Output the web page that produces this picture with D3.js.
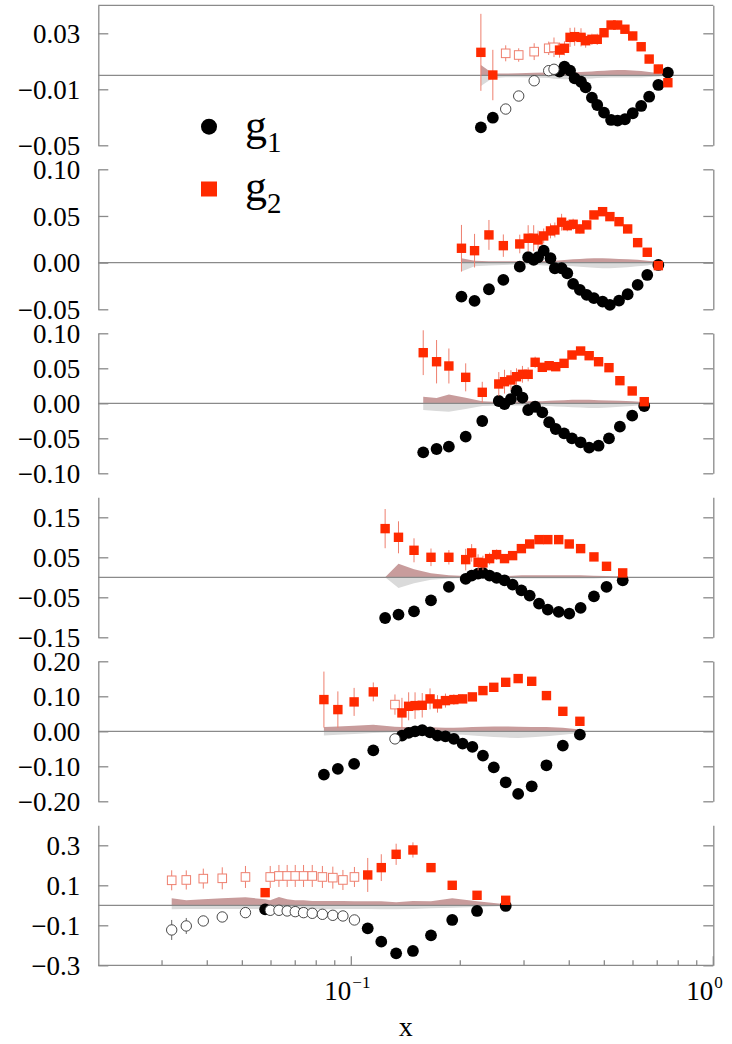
<!DOCTYPE html>
<html>
<head>
<meta charset="utf-8">
<script src="https://cdn.jsdelivr.net/npm/d3@7"></script>
<style>
  html, body { margin: 0; padding: 0; background: #fff; }
  svg { display: block; }
</style>
</head>
<body>
<svg id="chart" width="732" height="1044"></svg>
<script>
// ---- x axis (log) ----
const xDomain = [0.02, 1];
const xMinorTicks = [0.03, 0.04, 0.05, 0.06, 0.07, 0.08, 0.09, 0.2, 0.3, 0.4, 0.5, 0.6, 0.7, 0.8, 0.9];
const xMajorTicks = [0.1, 1];
const xMajorExponents = ["\u22121", "0"];

// ---- panel 1 ----
const p1X = [0.228, 0.246, 0.267, 0.290, 0.320, 0.351, 0.363, 0.376, 0.388, 0.402, 0.414, 0.431, 0.444, 0.462, 0.478, 0.499, 0.522, 0.544, 0.570, 0.599, 0.632, 0.665, 0.705, 0.749];
const p1G1 = [-0.0372, -0.0303, -0.0241, -0.0148, -0.0039, 0.0033, 0.0043, 0.0026, 0.0062, 0.0033, -0.0021, -0.0046, -0.0086, -0.0160, -0.0212, -0.0267, -0.0319, -0.0324, -0.0314, -0.0271, -0.0219, -0.0153, -0.0069, 0.0019];
const p1G1Err = [0.0034, 0.0026, 0.0030, 0.0018, 0.0012, 0.0010, 0.0010, 0.0010, 0.0010, 0.0010, 0.0010, 0.0010, 0.0010, 0.0010, 0.0010, 0.0010, 0.0010, 0.0010, 0.0010, 0.0010, 0.0010, 0.0010, 0.0010, 0.0010];
const p1G2 = [0.0164, 0.0002, 0.0157, 0.0145, 0.0169, 0.0193, 0.0200, 0.0180, 0.0193, 0.0271, 0.0276, 0.0271, 0.0247, 0.0257, 0.0257, 0.0304, 0.0359, 0.0359, 0.0329, 0.0281, 0.0204, 0.0116, 0.0045, -0.0053];
const p1G2Err = [0.0275, 0.0180, 0.0057, 0.0048, 0.0060, 0.0048, 0.0070, 0.0054, 0.0050, 0.0068, 0.0065, 0.0065, 0.0050, 0.0040, 0.0040, 0.0030, 0.0030, 0.0030, 0.0030, 0.0030, 0.0030, 0.0030, 0.0030, 0.0030];
const p1Open = [2, 3, 4, 5, 6];
const p1SysHi = [0.0073, 0.0012, 0.0012, 0.0015, 0.0018, 0.0020, 0.0020, 0.0020, 0.0020, 0.0020, 0.0022, 0.0024, 0.0026, 0.0028, 0.0030, 0.0033, 0.0036, 0.0038, 0.0037, 0.0034, 0.0030, 0.0024, 0.0016, 0.0010];
const p1SysLo = [-0.0077, -0.0020, -0.0014, -0.0014, -0.0016, -0.0020, -0.0024, -0.0026, -0.0028, -0.0028, -0.0028, -0.0026, -0.0024, -0.0022, -0.0020, -0.0018, -0.0016, -0.0016, -0.0016, -0.0016, -0.0015, -0.0012, -0.0008, -0.0004];
const p1YDomain = [-0.05, 0.05];
const p1YTicks = [-0.05, -0.01, 0.03];
const p1YLabels = ["\u22120.05", "\u22120.01", "0.03"];

// ---- panel 2 ----
const p2X = [0.2015, 0.219, 0.240, 0.263, 0.292, 0.308, 0.319, 0.328, 0.340, 0.355, 0.365, 0.381, 0.395, 0.410, 0.428, 0.447, 0.468, 0.4945, 0.518, 0.549, 0.580, 0.618, 0.657, 0.705];
const p2G1 = [-0.0364, -0.0410, -0.0285, -0.0185, -0.0043, 0.0058, 0.0029, 0.0058, 0.0128, 0.0047, -0.0060, -0.0060, -0.0114, -0.0228, -0.0292, -0.0346, -0.0381, -0.0418, -0.0453, -0.0407, -0.0339, -0.0239, -0.0132, -0.0025];
const p2G1Err = [0.0030, 0.0025, 0.0020, 0.0015, 0.0012, 0.0012, 0.0012, 0.0012, 0.0012, 0.0012, 0.0012, 0.0012, 0.0012, 0.0012, 0.0012, 0.0012, 0.0012, 0.0012, 0.0012, 0.0012, 0.0012, 0.0012, 0.0012, 0.0012];
const p2G2 = [0.0154, 0.0128, 0.0297, 0.0182, 0.0200, 0.0261, 0.0261, 0.0243, 0.0286, 0.0340, 0.0350, 0.0433, 0.0396, 0.0411, 0.0361, 0.0404, 0.0511, 0.0546, 0.0493, 0.0439, 0.0361, 0.0214, 0.0111, -0.0032];
const p2G2Err = [0.0250, 0.0180, 0.0160, 0.0120, 0.0100, 0.0140, 0.0140, 0.0100, 0.0080, 0.0080, 0.0080, 0.0090, 0.0060, 0.0060, 0.0050, 0.0040, 0.0040, 0.0040, 0.0040, 0.0040, 0.0030, 0.0030, 0.0030, 0.0030];
const p2Open = [];
const p2SysHi = [0.0047, 0.0020, 0.0015, 0.0015, 0.0015, 0.0015, 0.0015, 0.0015, 0.0018, 0.0020, 0.0020, 0.0025, 0.0030, 0.0035, 0.0040, 0.0045, 0.0047, 0.0047, 0.0045, 0.0040, 0.0035, 0.0030, 0.0020, 0.0010];
const p2SysLo = [-0.0096, -0.0040, -0.0030, -0.0025, -0.0020, -0.0020, -0.0020, -0.0025, -0.0030, -0.0030, -0.0030, -0.0030, -0.0035, -0.0040, -0.0045, -0.0050, -0.0055, -0.0060, -0.0060, -0.0055, -0.0050, -0.0040, -0.0030, -0.0010];
const p2YDomain = [-0.05, 0.10];
const p2YTicks = [-0.05, 0.0, 0.05, 0.10];
const p2YLabels = ["\u22120.05", "0.00", "0.05", "0.10"];

// ---- panel 3 ----
const p3X = [0.158, 0.172, 0.186, 0.207, 0.230, 0.2555, 0.265, 0.276, 0.286, 0.297, 0.308, 0.322, 0.337, 0.352, 0.367, 0.387, 0.407, 0.430, 0.454, 0.482, 0.515, 0.552, 0.597, 0.6445];
const p3G1 = [-0.0700, -0.0653, -0.0620, -0.0477, -0.0253, 0.0033, -0.0010, 0.0061, 0.0180, 0.0080, -0.0096, -0.0049, -0.0129, -0.0271, -0.0367, -0.0429, -0.0500, -0.0557, -0.0634, -0.0606, -0.0500, -0.0334, -0.0177, -0.0039];
const p3G1Err = [0.0030, 0.0030, 0.0025, 0.0020, 0.0020, 0.0020, 0.0020, 0.0020, 0.0020, 0.0020, 0.0020, 0.0020, 0.0020, 0.0020, 0.0020, 0.0020, 0.0020, 0.0020, 0.0020, 0.0020, 0.0020, 0.0020, 0.0020, 0.0020];
const p3G2 = [0.0723, 0.0594, 0.0533, 0.0371, 0.0157, 0.0276, 0.0309, 0.0333, 0.0380, 0.0414, 0.0414, 0.0586, 0.0514, 0.0537, 0.0523, 0.0571, 0.0690, 0.0747, 0.0680, 0.0594, 0.0509, 0.0323, 0.0176, 0.0023];
const p3G2Err = [0.0320, 0.0310, 0.0250, 0.0200, 0.0150, 0.0170, 0.0170, 0.0140, 0.0120, 0.0120, 0.0100, 0.0080, 0.0060, 0.0050, 0.0050, 0.0040, 0.0040, 0.0040, 0.0040, 0.0040, 0.0040, 0.0040, 0.0040, 0.0040];
const p3Open = [];
const p3SysHi = [0.0094, 0.0075, 0.0125, 0.0080, 0.0030, 0.0020, 0.0020, 0.0020, 0.0025, 0.0030, 0.0030, 0.0030, 0.0030, 0.0035, 0.0040, 0.0045, 0.0050, 0.0050, 0.0050, 0.0045, 0.0040, 0.0035, 0.0030, 0.0020];
const p3SysLo = [-0.0096, -0.0110, -0.0120, -0.0080, -0.0040, -0.0030, -0.0030, -0.0030, -0.0030, -0.0030, -0.0030, -0.0030, -0.0035, -0.0040, -0.0045, -0.0050, -0.0055, -0.0060, -0.0067, -0.0067, -0.0060, -0.0050, -0.0040, -0.0020];
const p3YDomain = [-0.10, 0.10];
const p3YTicks = [-0.10, -0.05, 0.0, 0.05, 0.10];
const p3YLabels = ["\u22120.10", "\u22120.05", "0.00", "0.05", "0.10"];

// ---- panel 4 ----
const p4X = [0.124, 0.135, 0.149, 0.166, 0.186, 0.207, 0.215, 0.224, 0.231, 0.241, 0.252, 0.265, 0.279, 0.295, 0.311, 0.330, 0.349, 0.374, 0.400, 0.430, 0.468, 0.507, 0.562];
const p4G1 = [-0.1017, -0.0933, -0.0850, -0.0575, -0.0240, -0.0040, 0.0043, 0.0093, 0.0110, 0.0043, -0.0015, -0.0075, -0.0183, -0.0325, -0.0458, -0.0658, -0.0808, -0.0865, -0.0908, -0.0765, -0.0475, -0.0240, -0.0075];
const p4G1Err = [0.0060, 0.0050, 0.0040, 0.0040, 0.0030, 0.0030, 0.0030, 0.0030, 0.0030, 0.0030, 0.0030, 0.0030, 0.0030, 0.0030, 0.0030, 0.0030, 0.0030, 0.0030, 0.0030, 0.0030, 0.0030, 0.0030, 0.0030];
const p4G2 = [0.1217, 0.1000, 0.0675, 0.0500, 0.0500, 0.0442, 0.0610, 0.0375, 0.0360, 0.0467, 0.0567, 0.0467, 0.0542, 0.0717, 0.0833, 0.0942, 0.0942, 0.0942, 0.0833, 0.0717, 0.0510, 0.0275, 0.0110];
const p4G2Err = [0.0490, 0.0400, 0.0300, 0.0220, 0.0180, 0.0270, 0.0220, 0.0200, 0.0180, 0.0150, 0.0130, 0.0100, 0.0080, 0.0060, 0.0050, 0.0050, 0.0050, 0.0050, 0.0050, 0.0050, 0.0050, 0.0050, 0.0050];
const p4Open = [];
const p4SysHi = [0.0000, 0.0340, 0.0200, 0.0100, 0.0050, 0.0030, 0.0030, 0.0030, 0.0030, 0.0030, 0.0030, 0.0030, 0.0040, 0.0050, 0.0050, 0.0050, 0.0050, 0.0050, 0.0050, 0.0050, 0.0040, 0.0030, 0.0020];
const p4SysLo = [0.0000, -0.0267, -0.0150, -0.0060, -0.0030, -0.0020, -0.0020, -0.0020, -0.0020, -0.0020, -0.0020, -0.0030, -0.0030, -0.0030, -0.0030, -0.0030, -0.0030, -0.0030, -0.0030, -0.0030, -0.0030, -0.0020, -0.0010];
const p4YDomain = [-0.15, 0.20];
const p4YTicks = [-0.15, -0.05, 0.05, 0.15];
const p4YLabels = ["\u22120.15", "\u22120.05", "0.05", "0.15"];

// ---- panel 5 ----
const p5X = [0.084, 0.0918, 0.1018, 0.115, 0.132, 0.138, 0.144, 0.150, 0.157, 0.165, 0.173, 0.182, 0.192, 0.203, 0.216, 0.231, 0.2475, 0.267, 0.289, 0.315, 0.346, 0.384, 0.428];
const p5G1 = [-0.1237, -0.1074, -0.0931, -0.0543, -0.0217, -0.0123, -0.0046, 0.0000, 0.0030, -0.0030, -0.0123, -0.0143, -0.0217, -0.0351, -0.0446, -0.0694, -0.1029, -0.1457, -0.1789, -0.1571, -0.0971, -0.0409, -0.0094];
const p5G1Err = [0.0080, 0.0070, 0.0060, 0.0050, 0.0050, 0.0050, 0.0050, 0.0050, 0.0050, 0.0050, 0.0050, 0.0050, 0.0050, 0.0050, 0.0050, 0.0050, 0.0050, 0.0050, 0.0050, 0.0050, 0.0050, 0.0050, 0.0050];
const p5G2 = [0.0906, 0.0620, 0.0840, 0.1126, 0.0763, 0.0526, 0.0714, 0.0734, 0.0743, 0.0926, 0.0783, 0.0877, 0.0906, 0.0926, 0.0983, 0.1163, 0.1257, 0.1400, 0.1506, 0.1429, 0.1020, 0.0571, 0.0286];
const p5G2Err = [0.0800, 0.0520, 0.0400, 0.0270, 0.0290, 0.0430, 0.0400, 0.0380, 0.0350, 0.0300, 0.0250, 0.0200, 0.0150, 0.0120, 0.0100, 0.0080, 0.0080, 0.0080, 0.0080, 0.0080, 0.0080, 0.0080, 0.0080];
const p5Open = [4];
const p5SysHi = [0.0126, 0.0140, 0.0160, 0.0190, 0.0130, 0.0120, 0.0120, 0.0130, 0.0130, 0.0120, 0.0110, 0.0100, 0.0100, 0.0110, 0.0120, 0.0130, 0.0140, 0.0140, 0.0130, 0.0120, 0.0120, 0.0100, 0.0050];
const p5SysLo = [-0.0123, -0.0100, -0.0080, -0.0050, -0.0030, -0.0040, -0.0050, -0.0060, -0.0070, -0.0080, -0.0080, -0.0080, -0.0090, -0.0100, -0.0120, -0.0140, -0.0160, -0.0180, -0.0190, -0.0170, -0.0140, -0.0100, -0.0050];
const p5YDomain = [-0.20, 0.20];
const p5YTicks = [-0.20, -0.10, 0.0, 0.10, 0.20];
const p5YLabels = ["\u22120.20", "\u22120.10", "0.00", "0.10", "0.20"];

// ---- panel 6 ----
const p6X = [0.0319, 0.035, 0.039, 0.044, 0.051, 0.0578, 0.0597, 0.0631, 0.0665, 0.070, 0.0738, 0.078, 0.0832, 0.0889, 0.0948, 0.102, 0.111, 0.121, 0.133, 0.148, 0.166, 0.190, 0.2225, 0.267];
const p6G1 = [-0.1233, -0.1033, -0.0783, -0.0583, -0.0367, -0.0200, -0.0250, -0.0250, -0.0283, -0.0317, -0.0367, -0.0400, -0.0450, -0.0500, -0.0533, -0.0733, -0.1150, -0.1817, -0.2400, -0.2283, -0.1500, -0.0733, -0.0283, -0.0033];
const p6G1Err = [0.0500, 0.0400, 0.0200, 0.0150, 0.0100, 0.0100, 0.0100, 0.0100, 0.0100, 0.0100, 0.0100, 0.0100, 0.0100, 0.0100, 0.0100, 0.0100, 0.0100, 0.0100, 0.0100, 0.0100, 0.0100, 0.0100, 0.0100, 0.0100];
const p6G2 = [0.1250, 0.1267, 0.1333, 0.1350, 0.1417, 0.0633, 0.1417, 0.1467, 0.1467, 0.1467, 0.1467, 0.1467, 0.1417, 0.1383, 0.1267, 0.1417, 0.1517, 0.1883, 0.2550, 0.2767, 0.1883, 0.1000, 0.0500, 0.0250];
const p6G2Err = [0.0500, 0.0480, 0.0500, 0.0550, 0.0550, 0.0200, 0.0550, 0.0550, 0.0550, 0.0550, 0.0550, 0.0550, 0.0550, 0.0550, 0.0500, 0.0500, 0.0850, 0.0670, 0.0530, 0.0380, 0.0200, 0.0150, 0.0100, 0.0100];
const p6Open = [0, 1, 2, 3, 4, 6, 7, 8, 9, 10, 11, 12, 13, 14, 15];
const p6SysHi = [0.0350, 0.0250, 0.0300, 0.0350, 0.0400, 0.0300, 0.0250, 0.0420, 0.0300, 0.0250, 0.0250, 0.0220, 0.0220, 0.0220, 0.0220, 0.0200, 0.0200, 0.0200, 0.0150, 0.0220, 0.0200, 0.0350, 0.0200, 0.0050];
const p6SysLo = [-0.0200, -0.0180, -0.0180, -0.0180, -0.0180, -0.0180, -0.0180, -0.0200, -0.0200, -0.0200, -0.0200, -0.0200, -0.0200, -0.0200, -0.0180, -0.0180, -0.0180, -0.0200, -0.0200, -0.0180, -0.0150, -0.0120, -0.0080, -0.0030];
const p6YDomain = [-0.30, 0.40];
const p6YTicks = [-0.3, -0.1, 0.1, 0.3];
const p6YLabels = ["\u22120.3", "\u22120.1", "0.1", "0.3"];

const panels = [
  { x: p1X, g1: p1G1, g1e: p1G1Err, g2: p1G2, g2e: p1G2Err, open: p1Open, hi: p1SysHi, lo: p1SysLo, dom: p1YDomain, ticks: p1YTicks, labels: p1YLabels },
  { x: p2X, g1: p2G1, g1e: p2G1Err, g2: p2G2, g2e: p2G2Err, open: p2Open, hi: p2SysHi, lo: p2SysLo, dom: p2YDomain, ticks: p2YTicks, labels: p2YLabels },
  { x: p3X, g1: p3G1, g1e: p3G1Err, g2: p3G2, g2e: p3G2Err, open: p3Open, hi: p3SysHi, lo: p3SysLo, dom: p3YDomain, ticks: p3YTicks, labels: p3YLabels },
  { x: p4X, g1: p4G1, g1e: p4G1Err, g2: p4G2, g2e: p4G2Err, open: p4Open, hi: p4SysHi, lo: p4SysLo, dom: p4YDomain, ticks: p4YTicks, labels: p4YLabels },
  { x: p5X, g1: p5G1, g1e: p5G1Err, g2: p5G2, g2e: p5G2Err, open: p5Open, hi: p5SysHi, lo: p5SysLo, dom: p5YDomain, ticks: p5YTicks, labels: p5YLabels },
  { x: p6X, g1: p6G1, g1e: p6G1Err, g2: p6G2, g2e: p6G2Err, open: p6Open, hi: p6SysHi, lo: p6SysLo, dom: p6YDomain, ticks: p6YTicks, labels: p6YLabels }
];

// ---- layout & style ----
const LEFT = 98.3, RIGHT = 713.3;
const TOP0 = 5.3, STEP = 164, PH = 140;
const AXIS = "#8a8a8a";
const FONT = "Liberation Serif";
const RED = "#ff2a00";
const RED_LIGHT = "#ee7f6e";
const ROSE = "#c89c9c";
const GREY_BAND = "#dadada";
const R_FILLED = 5.9, R_OPEN = 5.2, SQ_FILLED = 9.4, SQ_OPEN = 8.6;

const svg = d3.select("#chart");
const xs = d3.scaleLog().domain(xDomain).range([LEFT, RIGHT]);

panels.forEach((p, i) => {
  const top = TOP0 + STEP * i;
  const ys = d3.scaleLinear().domain(p.dom).range([top + PH, top]);
  const g = svg.append("g");
  const pts = p.x.map((x, k) => ({
    x, g1: p.g1[k], g1e: p.g1e[k], g2: p.g2[k], g2e: p.g2e[k],
    hi: p.hi[k], lo: p.lo[k], open: p.open.includes(k)
  }));

  // systematic bands
  g.append("path").datum(pts)
    .attr("fill", GREY_BAND)
    .attr("d", d3.area().x(d => xs(d.x)).y0(ys(0)).y1(d => ys(d.lo)));
  g.append("path").datum(pts)
    .attr("fill", ROSE)
    .attr("d", d3.area().x(d => xs(d.x)).y0(ys(0)).y1(d => ys(d.hi)));

  // zero line
  g.append("line")
    .attr("x1", LEFT).attr("x2", RIGHT)
    .attr("y1", ys(0)).attr("y2", ys(0))
    .attr("stroke", AXIS).attr("stroke-width", 1.2);

  // left / right axes with inward ticks
  const la = g.append("g").attr("transform", `translate(${LEFT},0)`)
    .call(d3.axisLeft(ys).tickValues(p.ticks).tickSize(-10).tickSizeOuter(0).tickPadding(18)
      .tickFormat((d, k) => p.labels[k]));
  const ra = g.append("g").attr("transform", `translate(${RIGHT},0)`)
    .call(d3.axisRight(ys).tickValues(p.ticks).tickSize(-10).tickSizeOuter(0).tickFormat(""));
  [la, ra].forEach(a => {
    a.attr("font-family", FONT);
    a.select(".domain").attr("stroke", AXIS).attr("stroke-width", 1.3);
    a.selectAll(".tick line").attr("stroke", AXIS).attr("stroke-width", 1.3);
  });
  la.selectAll(".tick text")
    .attr("font-family", FONT).attr("font-size", 27).attr("fill", "#000")
    .attr("dy", "0.34em");

  if (i === 0) {
    g.append("line").attr("x1", LEFT).attr("x2", RIGHT)
      .attr("y1", top).attr("y2", top)
      .attr("stroke", AXIS).attr("stroke-width", 1.3);
  }

  // g1 error bars and markers
  g.selectAll(".e1").data(pts).join("line")
    .attr("x1", d => xs(d.x)).attr("x2", d => xs(d.x))
    .attr("y1", d => ys(d.g1 - d.g1e)).attr("y2", d => ys(d.g1 + d.g1e))
    .attr("stroke", "#666").attr("stroke-width", 1);
  g.selectAll(".c1f").data(pts.filter(d => !d.open)).join("circle")
    .attr("cx", d => xs(d.x)).attr("cy", d => ys(d.g1)).attr("r", R_FILLED)
    .attr("fill", "#000");
  g.selectAll(".c1o").data(pts.filter(d => d.open)).join("circle")
    .attr("cx", d => xs(d.x)).attr("cy", d => ys(d.g1)).attr("r", R_OPEN)
    .attr("fill", "#fff").attr("stroke", "#333").attr("stroke-width", 0.9);

  // g2 error bars and markers
  g.selectAll(".e2").data(pts).join("line")
    .attr("x1", d => xs(d.x)).attr("x2", d => xs(d.x))
    .attr("y1", d => ys(d.g2 - d.g2e)).attr("y2", d => ys(d.g2 + d.g2e))
    .attr("stroke", RED_LIGHT).attr("stroke-width", 1);
  g.selectAll(".s2o").data(pts.filter(d => d.open)).join("rect")
    .attr("x", d => xs(d.x) - SQ_OPEN / 2).attr("y", d => ys(d.g2) - SQ_OPEN / 2)
    .attr("width", SQ_OPEN).attr("height", SQ_OPEN)
    .attr("fill", "#fff").attr("stroke", RED_LIGHT).attr("stroke-width", 1);
  g.selectAll(".s2f").data(pts.filter(d => !d.open)).join("rect")
    .attr("x", d => xs(d.x) - SQ_FILLED / 2).attr("y", d => ys(d.g2) - SQ_FILLED / 2)
    .attr("width", SQ_FILLED).attr("height", SQ_FILLED)
    .attr("fill", RED);

  // bottom axis on the last panel
  if (i === panels.length - 1) {
    const yb = top + PH;
    g.append("line").attr("x1", LEFT).attr("x2", RIGHT)
      .attr("y1", yb).attr("y2", yb)
      .attr("stroke", AXIS).attr("stroke-width", 1.3);
    g.selectAll(".xmin").data(xMinorTicks).join("line")
      .attr("x1", d => xs(d)).attr("x2", d => xs(d))
      .attr("y1", yb).attr("y2", yb - 5)
      .attr("stroke", AXIS).attr("stroke-width", 1.3);
    g.selectAll(".xmaj").data(xMajorTicks).join("line")
      .attr("x1", d => xs(d)).attr("x2", d => xs(d))
      .attr("y1", yb).attr("y2", yb - 9)
      .attr("stroke", AXIS).attr("stroke-width", 1.3);
    xMajorTicks.forEach((t, k) => {
      g.append("text").attr("x", xs(t)).attr("y", yb + 35)
        .attr("text-anchor", "end")
        .attr("font-family", FONT).attr("font-size", 27).text("10");
      g.append("text").attr("x", xs(t) + 1).attr("y", yb + 23)
        .attr("text-anchor", "start")
        .attr("font-family", FONT).attr("font-size", 17).text(xMajorExponents[k]);
    });
    g.append("text").attr("x", (LEFT + RIGHT) / 2).attr("y", 1036)
      .attr("text-anchor", "middle")
      .attr("font-family", FONT).attr("font-size", 28).text("x");
  }
});

// legend
const leg = svg.append("g");
leg.append("circle").attr("cx", 209).attr("cy", 126.7).attr("r", 8).attr("fill", "#000");
const t1 = leg.append("text").attr("x", 245).attr("y", 140)
  .attr("font-family", FONT).attr("font-size", 44);
t1.append("tspan").text("g");
t1.append("tspan").attr("font-size", 29).attr("dy", 12).text("1");
leg.append("rect").attr("x", 201).attr("y", 181.5).attr("width", 16).attr("height", 15).attr("fill", RED);
const t2 = leg.append("text").attr("x", 245).attr("y", 201)
  .attr("font-family", FONT).attr("font-size", 44);
t2.append("tspan").text("g");
t2.append("tspan").attr("font-size", 29).attr("dy", 12).text("2");
</script>
</body>
</html>
